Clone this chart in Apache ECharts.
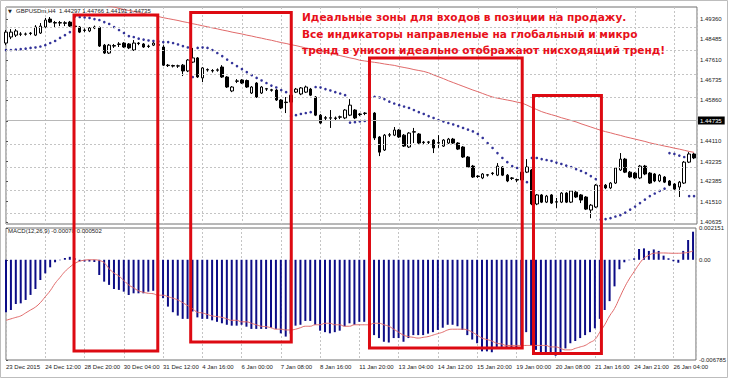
<!DOCTYPE html>
<html><head><meta charset="utf-8">
<script src="https://cdn.jsdelivr.net/npm/echarts@6/dist/echarts.min.js"></script>
<style>html,body{margin:0;padding:0;background:#fff;}#c{width:729px;height:381px;}</style>
</head><body><div id="c"></div>
<script>
const tickLabels = ['23 Dec 2015','24 Dec 12:00','28 Dec 20:00','30 Dec 04:00','31 Dec 12:00','4 Jan 16:00','6 Jan 00:00','7 Jan 08:00','8 Jan 16:00','11 Jan 20:00','13 Jan 04:00','14 Jan 12:00','15 Jan 20:00','19 Jan 00:00','20 Jan 08:00','21 Jan 16:00','24 Jan 21:00','26 Jan 04:00'];
const priceTicks = [1.40635,1.41510,1.42385,1.43235,1.44110,1.44985,1.45860,1.46735,1.47610,1.48485,1.49360];
const bidPrice = 1.44735;
const macdTicks = [0.002151, 0, -0.006785];

const opens = [1.4833,1.4859,1.4867,1.4872,1.4871,1.4874,1.4867,1.4876,1.4902,1.4936,
1.4921,1.4919,1.4920,1.4923,1.4906,1.4902,1.4887,1.4885,1.4902,1.4900,
1.4824,1.4790,1.4822,1.4827,1.4833,1.4829,1.4803,1.4833,1.4829,1.4818,
1.4824,1.4826,1.4816,1.4738,1.4736,1.4734,1.4738,1.4713,1.4751,1.4769,
1.4683,1.4717,1.4715,1.4716,1.4730,1.4687,1.4627,1.4670,1.4674,1.4672,
1.4618,1.4661,1.4618,1.4635,1.4632,1.4631,1.4588,1.4579,1.4579,1.4622,
1.4614,1.4622,1.4635,1.4601,1.4523,1.4512,1.4510,1.4511,1.4514,1.4511,
1.4523,1.4545,1.4528,1.4530,1.4532,1.4532,1.4429,1.4373,1.4437,1.4437,
1.4459,1.4437,1.4386,1.4450,1.4442,1.4407,1.4406,1.4416,1.4403,1.4390,
1.4403,1.4420,1.4403,1.4386,1.4343,1.4304,1.4261,1.4253,1.4265,1.4274,
1.4265,1.4300,1.4265,1.4253,1.4246,1.4244,1.4278,1.4287,1.4141,1.4180,
1.4149,1.4180,1.4149,1.4149,1.4188,1.4149,1.4192,1.4180,1.4171,1.4115,
1.4128,1.4220,1.4222,1.4210,1.4231,1.4287,1.4334,1.4278,1.4274,1.4253,
1.4304,1.4274,1.4270,1.4240,1.4257,1.4240,1.4227,1.4214,1.4231,1.4321,
1.4356];
const closes = [1.4880,1.4880,1.4885,1.4871,1.4872,1.4876,1.4902,1.4906,1.4932,1.4923,
1.4919,1.4921,1.4918,1.4906,1.4904,1.4880,1.4889,1.4898,1.4898,1.4820,
1.4790,1.4824,1.4820,1.4829,1.4816,1.4812,1.4833,1.4831,1.4816,1.4820,
1.4833,1.4824,1.4738,1.4736,1.4734,1.4735,1.4713,1.4760,1.4769,1.4687,
1.4726,1.4719,1.4713,1.4718,1.4687,1.4644,1.4644,1.4669,1.4661,1.4644,
1.4644,1.4601,1.4644,1.4637,1.4630,1.4588,1.4554,1.4577,1.4609,1.4635,
1.4640,1.4644,1.4609,1.4523,1.4489,1.4510,1.4512,1.4509,1.4516,1.4545,
1.4566,1.4511,1.4526,1.4532,1.4530,1.4425,1.4364,1.4437,1.4439,1.4459,
1.4429,1.4390,1.4446,1.4452,1.4403,1.4405,1.4408,1.4382,1.4405,1.4416,
1.4420,1.4403,1.4377,1.4343,1.4300,1.4257,1.4259,1.4270,1.4267,1.4272,
1.4304,1.4265,1.4240,1.4251,1.4244,1.4278,1.4300,1.4141,1.4180,1.4149,
1.4175,1.4145,1.4151,1.4188,1.4149,1.4197,1.4171,1.4158,1.4119,1.4136,
1.4222,1.4218,1.4210,1.4231,1.4296,1.4334,1.4278,1.4257,1.4253,1.4304,
1.4270,1.4231,1.4240,1.4265,1.4235,1.4222,1.4205,1.4235,1.4321,1.4356,
1.4339];
const lows = [1.4824,1.4850,1.4859,1.4863,1.4865,1.4867,1.4863,1.4872,1.4898,1.4919,
1.4902,1.4906,1.4906,1.4902,1.4898,1.4876,1.4880,1.4880,1.4893,1.4816,
1.4786,1.4786,1.4812,1.4816,1.4812,1.4807,1.4799,1.4824,1.4812,1.4812,
1.4820,1.4816,1.4734,1.4730,1.4728,1.4726,1.4691,1.4708,1.4747,1.4683,
1.4665,1.4710,1.4706,1.4710,1.4683,1.4640,1.4622,1.4661,1.4657,1.4640,
1.4614,1.4597,1.4614,1.4627,1.4624,1.4584,1.4549,1.4532,1.4575,1.4618,
1.4609,1.4618,1.4605,1.4519,1.4485,1.4502,1.4468,1.4502,1.4506,1.4506,
1.4519,1.4506,1.4519,1.4523,1.4523,1.4416,1.4347,1.4369,1.4429,1.4433,
1.4425,1.4386,1.4382,1.4403,1.4399,1.4399,1.4399,1.4360,1.4382,1.4386,
1.4399,1.4399,1.4373,1.4339,1.4296,1.4253,1.4253,1.4248,1.4259,1.4265,
1.4261,1.4261,1.4235,1.4244,1.4235,1.4240,1.4274,1.4136,1.4136,1.4145,
1.4145,1.4141,1.4124,1.4145,1.4145,1.4145,1.4167,1.4145,1.4115,1.4080,
1.4124,1.4210,1.4205,1.4205,1.4227,1.4283,1.4274,1.4253,1.4248,1.4248,
1.4265,1.4227,1.4235,1.4235,1.4231,1.4218,1.4201,1.4171,1.4227,1.4317,
1.4334];
const highs = [1.4889,1.4893,1.4893,1.4880,1.4878,1.4880,1.4910,1.4919,1.4941,1.4945,
1.4928,1.4928,1.4927,1.4928,1.4912,1.4906,1.4896,1.4902,1.4908,1.4904,
1.4829,1.4829,1.4829,1.4837,1.4837,1.4833,1.4846,1.4837,1.4833,1.4826,
1.4837,1.4829,1.4824,1.4743,1.4740,1.4740,1.4743,1.4764,1.4812,1.4773,
1.4730,1.4724,1.4721,1.4724,1.4738,1.4691,1.4648,1.4678,1.4678,1.4676,
1.4648,1.4665,1.4648,1.4640,1.4636,1.4635,1.4592,1.4601,1.4614,1.4640,
1.4644,1.4650,1.4640,1.4605,1.4528,1.4519,1.4545,1.4517,1.4521,1.4549,
1.4592,1.4549,1.4532,1.4536,1.4536,1.4536,1.4433,1.4442,1.4446,1.4472,
1.4463,1.4442,1.4450,1.4468,1.4446,1.4412,1.4412,1.4420,1.4437,1.4420,
1.4425,1.4425,1.4407,1.4390,1.4347,1.4309,1.4265,1.4274,1.4270,1.4278,
1.4317,1.4304,1.4270,1.4257,1.4250,1.4283,1.4334,1.4291,1.4184,1.4184,
1.4180,1.4184,1.4167,1.4192,1.4192,1.4201,1.4197,1.4184,1.4175,1.4141,
1.4227,1.4227,1.4227,1.4235,1.4300,1.4360,1.4339,1.4283,1.4278,1.4309,
1.4309,1.4278,1.4274,1.4270,1.4261,1.4244,1.4231,1.4240,1.4326,1.4364,
1.4360];
const sar = [1.4803,1.4803,1.4805,1.4807,1.4809,1.4812,1.4814,1.4818,1.4824,1.4833,
1.4842,1.4855,1.4867,1.4880,1.4947,1.4945,1.4943,1.4941,1.4936,1.4932,
1.4923,1.4915,1.4902,1.4889,1.4876,1.4863,1.4859,1.4852,1.4848,1.4844,
1.4842,1.4840,1.4837,1.4837,1.4833,1.4827,1.4820,1.4814,1.4687,1.4812,
1.4814,1.4812,1.4803,1.4790,1.4777,1.4762,1.4747,1.4734,1.4721,1.4708,
1.4695,1.4683,1.4672,1.4661,1.4650,1.4642,1.4631,1.4622,1.4519,1.4523,
1.4528,1.4532,1.4536,1.4644,1.4642,1.4635,1.4629,1.4622,1.4616,1.4609,
1.4491,1.4493,1.4496,1.4498,1.4500,1.4602,1.4599,1.4592,1.4581,1.4573,
1.4566,1.4560,1.4554,1.4545,1.4536,1.4528,1.4519,1.4511,1.4502,1.4496,
1.4489,1.4483,1.4476,1.4468,1.4461,1.4453,1.4442,1.4425,1.4403,1.4382,
1.4360,1.4339,1.4321,1.4304,1.4296,1.4291,1.4235,1.4339,1.4339,1.4334,
1.4330,1.4326,1.4319,1.4313,1.4306,1.4300,1.4291,1.4283,1.4274,1.4261,
1.4248,1.4074,1.4076,1.4080,1.4087,1.4093,1.4104,1.4117,1.4130,1.4145,
1.4160,1.4175,1.4186,1.4197,1.4207,1.4360,1.4356,1.4349,1.4343,1.4175,
1.4175];
const movingAvg = [1.5082,1.5078,1.5073,1.5069,1.5065,1.5060,1.5056,1.5052,1.5047,1.5043,
1.5038,1.5034,1.5030,1.5025,1.5021,1.5017,1.5012,1.5008,1.5004,1.4999,
1.4995,1.4991,1.4988,1.4982,1.4977,1.4973,1.4969,1.4964,1.4960,1.4955,
1.4951,1.4947,1.4942,1.4938,1.4934,1.4930,1.4925,1.4921,1.4916,1.4912,
1.4907,1.4903,1.4898,1.4894,1.4889,1.4885,1.4880,1.4876,1.4872,1.4867,
1.4863,1.4858,1.4854,1.4849,1.4845,1.4840,1.4835,1.4831,1.4826,1.4822,
1.4817,1.4812,1.4808,1.4803,1.4799,1.4794,1.4789,1.4784,1.4779,1.4774,
1.4769,1.4765,1.4759,1.4756,1.4753,1.4750,1.4747,1.4743,1.4740,1.4737,
1.4732,1.4728,1.4724,1.4719,1.4715,1.4711,1.4705,1.4696,1.4688,1.4680,
1.4671,1.4663,1.4655,1.4647,1.4639,1.4631,1.4624,1.4616,1.4608,1.4601,
1.4596,1.4592,1.4588,1.4584,1.4579,1.4575,1.4566,1.4556,1.4547,1.4538,
1.4531,1.4525,1.4519,1.4512,1.4506,1.4500,1.4494,1.4486,1.4479,1.4472,
1.4465,1.4458,1.4452,1.4447,1.4441,1.4436,1.4430,1.4425,1.4420,1.4415,
1.4410,1.4404,1.4399,1.4395,1.4390,1.4386,1.4381,1.4377,1.4372,1.4367,
1.4363];
const macdHist = [-0.00355,-0.0034,-0.0030,-0.00295,-0.00272,-0.00238,-0.00198,-0.00137,-0.00092,-0.00051,
-0.00017,-0.00003,0.00012,0.0002,0.0001,-0.0001,-0.00012,-0.00012,-0.00015,-0.00103,
-0.00148,-0.0017,-0.00198,-0.00204,-0.00216,-0.00238,-0.00227,-0.00227,-0.00227,-0.00216,
-0.0021,-0.0022,-0.0026,-0.00317,-0.00355,-0.00378,-0.0040,-0.0040,-0.0035,-0.0039,
-0.0040,-0.0040,-0.0041,-0.0042,-0.0043,-0.0044,-0.00446,-0.00446,-0.0044,-0.00453,
-0.00468,-0.00468,-0.00468,-0.00468,-0.0046,-0.00468,-0.00498,-0.0052,-0.0050,-0.00446,
-0.0044,-0.00414,-0.00414,-0.0044,-0.0048,-0.0049,-0.00498,-0.0049,-0.0048,-0.0045,
-0.0043,-0.0044,-0.0042,-0.0042,-0.0045,-0.0051,-0.0053,-0.00555,-0.0056,-0.0053,
-0.0053,-0.00555,-0.0053,-0.0051,-0.0051,-0.0051,-0.0050,-0.0049,-0.00475,-0.0046,
-0.0044,-0.0044,-0.0045,-0.00475,-0.0051,-0.0054,-0.00565,-0.0062,-0.0062,-0.00626,
-0.0060,-0.0059,-0.0059,-0.0059,-0.0060,-0.0058,-0.0049,-0.0058,-0.0061,-0.0063,
-0.0064,-0.0064,-0.0065,-0.0063,-0.0060,-0.00565,-0.0055,-0.0053,-0.0051,-0.0049,
-0.00464,-0.0040,-0.0034,-0.0028,-0.0018,-0.00064,-0.00017,-0.00003,0.0001,0.00073,
0.00077,0.0006,0.0007,0.0006,0.00028,0.0001,-0.0001,-0.0002,0.0006,0.00134,
0.0019];
const macdSignal = [-0.0041,-0.0040,-0.0039,-0.0038,-0.0036,-0.0034,-0.0032,-0.0029,-0.0025,-0.0021,
-0.0016,-0.0012,-0.0008,-0.0005,-0.00025,-0.0001,-0.00003,0,0,-0.00005,
-0.0002,-0.0006,-0.0009,-0.0011,-0.0014,-0.0017,-0.0019,-0.0021,-0.0022,-0.00227,
-0.0023,-0.0024,-0.0024,-0.0025,-0.0026,-0.00272,-0.0029,-0.0031,-0.0033,-0.00355,
-0.0036,-0.0037,-0.0038,-0.00385,-0.0039,-0.0040,-0.0041,-0.0041,-0.0042,-0.0042,
-0.0043,-0.0044,-0.0045,-0.00453,-0.0046,-0.0047,-0.0047,-0.00475,-0.00475,-0.0047,
-0.0046,-0.0045,-0.0045,-0.0044,-0.0044,-0.0043,-0.0043,-0.0044,-0.0044,-0.0045,
-0.0045,-0.0044,-0.0044,-0.0044,-0.0044,-0.0043,-0.0043,-0.0044,-0.0045,-0.0047,
-0.0049,-0.0051,-0.0052,-0.00525,-0.0053,-0.00525,-0.0052,-0.0051,-0.0050,-0.0049,
-0.00475,-0.0047,-0.0047,-0.0047,-0.00475,-0.0049,-0.0051,-0.0053,-0.0054,-0.0055,
-0.00565,-0.0057,-0.0058,-0.0058,-0.0058,-0.0058,-0.0058,-0.0058,-0.0058,-0.0058,
-0.0058,-0.0059,-0.0059,-0.0060,-0.0061,-0.0061,-0.0060,-0.0059,-0.0058,-0.0056,
-0.0054,-0.0049,-0.0044,-0.0038,-0.0033,-0.0026,-0.0019,-0.0013,-0.0008,-0.0003,
0.0001,0.0003,0.00044,0.00046,0.00046,0.00045,0.00044,0.00044,0.00046,0.0005,
0.0006];
// highlighted zones: [first bar, last bar, top price, bottom MACD value]
const zones = [[13.84,30.93,1.49536,-0.00618],[37.58,58.13,1.49644,-0.00557],[73.96,105.19,1.47687,-0.00597],[107.33,121.33,1.46075,-0.00635]];
const noteLines = ['Идеальные зоны для входов в позиции на продажу.','Все индикаторы направленые на глобальный и микро','тренд в унисон идеально отображают нисходящий тренд!'];
const headerText = 'GBPUSDm,H4  1.44297 1.44766 1.44191 1.44735';
const macdText = 'MACD(12,26,9) -0.00070 0.000502';

const chart = echarts.init(document.getElementById('c'), null, {renderer: 'svg'});
const idx = opens.map((_, i) => i);
const FONT = 'Liberation Sans';
const gridLine = {show: true, lineStyle: {color: '#c4c4c4', type: [2, 2], width: 1}};
const xFmt = v => (v % 8 === 0 && tickLabels[v / 8]) ? tickLabels[v / 8] : '';

const option = {
  animation: false,
  backgroundColor: '#fff',
  textStyle: {fontFamily: FONT},
  grid: [
    {left: 6, top: 7, width: 691, height: 217, show: true, borderColor: '#707070', borderWidth: 1},
    {left: 6, top: 228, width: 691, height: 132, show: true, borderColor: '#707070', borderWidth: 1}
  ],
  xAxis: [
    {type: 'value', gridIndex: 0, min: 0, max: 140.6, interval: 8,
     axisLine: {show: false}, axisTick: {show: false}, axisLabel: {show: false}, splitLine: gridLine},
    {type: 'value', gridIndex: 1, min: 0, max: 140.6, interval: 8,
     axisLine: {show: false}, axisTick: {show: false},
     axisLabel: {show: true, formatter: xFmt, align: 'left', fontSize: 6, color: '#222', margin: 4, fontFamily: FONT,
       showMinLabel: true, showMaxLabel: false},
     splitLine: gridLine}
  ],
  yAxis: [
    {type: 'value', gridIndex: 0, position: 'right', min: 1.4055, max: 1.4988, scale: true,
     axisLine: {show: false},
     axisTick: {show: true, customValues: priceTicks, length: 2, lineStyle: {color: '#555'}},
     axisLabel: {customValues: priceTicks, formatter: v => v.toFixed(5), fontSize: 6, color: '#222', margin: 3, fontFamily: FONT},
     splitLine: {show: false}},
    {type: 'value', gridIndex: 1, position: 'right', min: -0.006785, max: 0.002151,
     axisLine: {show: false},
     axisTick: {show: true, customValues: macdTicks, length: 2, lineStyle: {color: '#555'}},
     axisLabel: {customValues: macdTicks, formatter: v => v === 0 ? '0.00' : v.toFixed(6), fontSize: 6, color: '#222', margin: 3, fontFamily: FONT},
     splitLine: {show: false}}
  ],
  series: [
    {type: 'line', xAxisIndex: 0, yAxisIndex: 0, data: [], z: 0, silent: true,
     markLine: {silent: true, symbol: 'none', label: {show: false},
       lineStyle: {color: '#c4c4c4', type: [2, 2], width: 1},
       data: priceTicks.map(v => ({yAxis: v}))}},
    {type: 'line', xAxisIndex: 0, yAxisIndex: 0, data: idx.map(i => [i, movingAvg[i]]),
     showSymbol: false, lineStyle: {color: '#e06a6a', width: 1}, z: 2, clip: true},
    {type: 'candlestick', xAxisIndex: 0, yAxisIndex: 0, barWidth: 3, clip: false, z: 3,
     data: idx.map(i => [i, opens[i], closes[i], lows[i], highs[i]]),
     itemStyle: {color: '#ffffff', color0: '#000000', borderColor: '#000000', borderColor0: '#000000', borderWidth: 1},
     markLine: {silent: true, symbol: 'none',
       lineStyle: {color: '#b8b8b8', type: 'solid', width: 1},
       label: {show: true, position: 'end', distance: 1, formatter: () => bidPrice.toFixed(5),
         backgroundColor: '#000', color: '#fff', fontSize: 6, padding: [1, 3, 1, 2], fontFamily: FONT},
       data: [{yAxis: bidPrice}]}},
    {type: 'scatter', xAxisIndex: 0, yAxisIndex: 0, symbol: 'circle', symbolSize: 2.6, z: 4,
     data: idx.map(i => [i, sar[i]]), itemStyle: {color: '#000080'}},
    {type: 'bar', xAxisIndex: 1, yAxisIndex: 1, barWidth: 2, z: 2,
     data: idx.map(i => [i, macdHist[i]]), itemStyle: {color: '#0c0c86'}},
    {type: 'line', xAxisIndex: 1, yAxisIndex: 1, data: idx.map(i => [i, macdSignal[i]]),
     showSymbol: false, smooth: true, lineStyle: {color: '#e06a6a', width: 1}, z: 3}
  ]
};
chart.setOption(option);

const graphics = [
  {type: 'rect', shape: {x: 0.5, y: 0.5, width: 727, height: 377}, style: {fill: 'none', stroke: '#bdbdbd', lineWidth: 1}, silent: true, z: 0},
  {type: 'text', x: 8, y: 11, style: {text: '▼', font: '5px "DejaVu Sans"', fill: '#222', verticalAlign: 'middle'}, z: 10},
  {type: 'text', x: 16, y: 11, style: {text: headerText, font: '6px "Liberation Sans"', fill: '#222', verticalAlign: 'middle'}, z: 10},
  {type: 'text', x: 8, y: 231, style: {text: macdText, font: '6px "Liberation Sans"', fill: '#222', verticalAlign: 'middle'}, z: 10},
  {type: 'text', x: 302, y: 9, style: {text: noteLines.join('\n'), font: 'bold 10.6px "DejaVu Sans"', fill: '#e8101a', lineHeight: 16.5, verticalAlign: 'top'}, z: 20}
];
zones.forEach(z => {
  const p1 = chart.convertToPixel({gridIndex: 0}, [z[0], z[2]]);
  const p2 = chart.convertToPixel({gridIndex: 1}, [z[1], z[3]]);
  graphics.push({type: 'rect', shape: {x: p1[0], y: p1[1], width: p2[0] - p1[0], height: p2[1] - p1[1]},
    style: {fill: 'none', stroke: '#dd0a12', lineWidth: 3}, silent: true, z: 15});
});
chart.setOption({graphic: graphics});
</script>
</body></html>
